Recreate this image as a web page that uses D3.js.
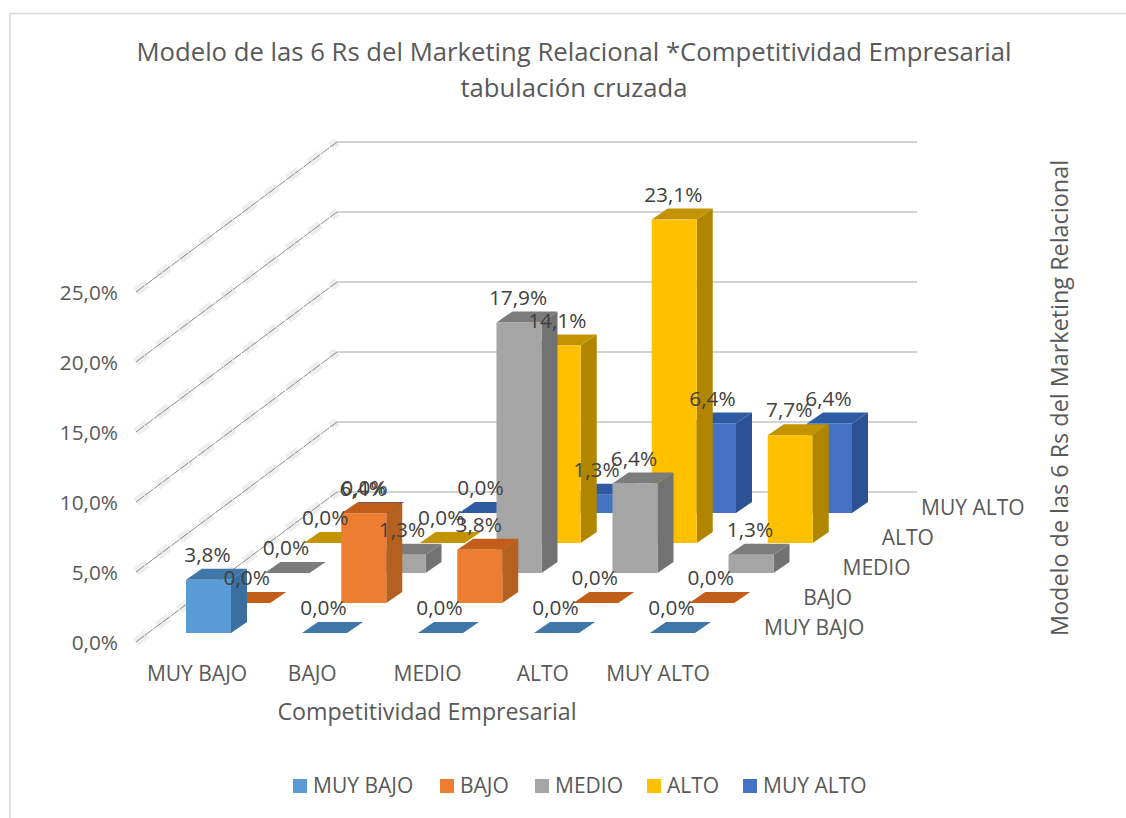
<!DOCTYPE html>
<html><head><meta charset="utf-8">
<script src="https://cdn.jsdelivr.net/npm/d3@7/dist/d3.min.js"></script>
<style>
html,body{margin:0;padding:0;background:#fff;overflow:hidden}
text{font-family:"Open Sans",sans-serif}
</style></head><body><svg id="c" width="1126" height="818"></svg>
<script>
const titleLines = ["Modelo de las 6 Rs del Marketing Relacional *Competitividad Empresarial","tabulación cruzada"];
const categories = ["MUY BAJO","BAJO","MEDIO","ALTO","MUY ALTO"];
const seriesNames = ["MUY BAJO","BAJO","MEDIO","ALTO","MUY ALTO"];
const muyBajo = [3.8,0,0,0,0];
const bajo = [0,6.4,3.8,0,0];
const medio = [0,1.3,17.9,6.4,1.3];
const alto = [0,0,14.1,23.1,7.7];
const muyAlto = [0,0,1.3,6.4,6.4];
const seriesValues = [muyBajo,bajo,medio,alto,muyAlto];
const frontColors = ["#5B9BD5","#ED7D31","#A5A5A5","#FFC000","#4472C4"];
const sideColors = ["#3A6F9F","#B5601F","#727272","#B08600","#2C5296"];
const topColors = ["#3E77A8","#C25E1A","#7C7C7C","#C39400","#2F5BA3"];
const yTicks = [0,5,10,15,20,25];
const xTitle = "Competitividad Empresarial";
const zTitle = "Modelo de las 6 Rs del Marketing Relacional";

const fmt = v => v.toFixed(1).replace(".",",") + "%";
const svg = d3.select("#c");
const textCol = "#595959", labelCol = "#404040";

// frame
svg.append("path").attr("d","M10,818V13.5H1126").attr("fill","none").attr("stroke","#d9d9d9").attr("stroke-width",1.6);

// scales
const yFront = d3.scaleLinear().domain([0,25]).range([642,292]);
const barH = d3.scaleLinear().domain([0,25]).range([0,350]);
const xCat = d3.scalePoint().domain(d3.range(5)).range([186,650]);
const xCatLabel = d3.scalePoint().domain(d3.range(5)).range([197,658]);
const rowX = d3.scalePoint().domain(d3.range(5)).range([0,157]);
const rowY = d3.scalePoint().domain(d3.range(5)).range([633,513]);
const legendX = d3.scaleOrdinal().domain(d3.range(5)).range([293,440,535,647,743]);
const floorDX = 201, floorDY = 150, wallEnd = 917;
const barW = 45, depthX = 16, depthY = 11;

// grid
const grid = svg.append("g");
yTicks.forEach(t=>{
  const y = yFront(t);
  grid.append("line").attr("x1",136).attr("y1",y).attr("x2",136+floorDX).attr("y2",y-floorDY)
    .attr("stroke","#eeeeee").attr("stroke-width",9).attr("stroke-dasharray","14 13");
  grid.append("line").attr("x1",136).attr("y1",y).attr("x2",136+floorDX).attr("y2",y-floorDY)
    .attr("stroke","#6f6f6f").attr("stroke-width",.8).attr("stroke-dasharray","10 1");
  grid.append("line").attr("x1",136+floorDX).attr("y1",y-floorDY).attr("x2",wallEnd).attr("y2",y-floorDY)
    .attr("stroke","#c4c4c4").attr("stroke-width",1.4);
});

// y axis
const yAxis = d3.axisLeft(yFront).tickValues(yTicks).tickSize(0).tickPadding(0).tickFormat(fmt);
const ya = svg.append("g").attr("transform","translate(118,1)").call(yAxis);
ya.select(".domain").remove();
ya.selectAll("text").attr("font-size",20.8).attr("fill",textCol);

// bars back to front
const bars = svg.append("g");
const labels = [];
for(let r=4;r>=0;r--){
  const vals = seriesValues[r];
  const g = bars.append("g");
  vals.forEach((v,c)=>{
    const x0 = xCat(c)+rowX(r), yb = rowY(r), h = barH(v), yt = yb-h;
    const pts = a=>a.map(p=>p.join(",")).join(" ");
    g.append("polygon").attr("points",pts([[x0+barW,yb],[x0+barW+depthX,yb-depthY],[x0+barW+depthX,yt-depthY],[x0+barW,yt]])).attr("fill",sideColors[r]);
    g.append("polygon").attr("points",pts([[x0,yt],[x0+depthX,yt-depthY],[x0+barW+depthX,yt-depthY],[x0+barW,yt]])).attr("fill",topColors[r]);
    if(h>0) g.append("rect").attr("x",x0).attr("y",yt).attr("width",barW).attr("height",h).attr("fill",frontColors[r]);
    labels.push({x:x0+barW/2-1,y:yt-depthY-14,t:fmt(v)});
  });
}
svg.append("g").selectAll("text").data(labels).join("text")
  .attr("x",d=>d.x).attr("y",d=>d.y).attr("dy","0.35em").attr("text-anchor","middle")
  .attr("font-size",20.8).attr("fill",labelCol).text(d=>d.t);

// title
svg.append("g").selectAll("text").data(titleLines).join("text")
  .attr("x",574).attr("y",(d,i)=>52+i*36).attr("dy","0.35em").attr("text-anchor","middle")
  .attr("font-size",25.7).attr("fill",textCol).text(d=>d);

// category labels
svg.append("g").selectAll("text").data(categories).join("text")
  .attr("x",(d,i)=>xCatLabel(i)).attr("y",674).attr("dy","0.35em").attr("text-anchor","middle")
  .attr("font-size",21).attr("fill",textCol).text(d=>d);
svg.append("text").attr("x",427).attr("y",712).attr("dy","0.35em").attr("text-anchor","middle")
  .attr("font-size",23.2).attr("fill",textCol).text(xTitle);

// depth labels
svg.append("g").selectAll("text").data(seriesNames).join("text")
  .attr("x",(d,i)=>764+rowX(i)).attr("y",(d,i)=>rowY(i)-5).attr("dy","0.35em")
  .attr("font-size",21).attr("fill",textCol).text(d=>d);
svg.append("text").attr("transform","translate(1060,398) rotate(-90)").attr("dy","0.35em").attr("text-anchor","middle")
  .attr("font-size",23.4).attr("fill",textCol).text(zTitle);

// legend
const leg = svg.append("g");
seriesNames.forEach((n,i)=>{
  const lx = legendX(i);
  leg.append("rect").attr("x",lx).attr("y",779).attr("width",14).attr("height",14).attr("fill",frontColors[i]);
  leg.append("text").attr("x",lx+20).attr("y",786).attr("dy","0.35em").attr("font-size",21).attr("fill",textCol).text(n);
});
</script></body></html>
